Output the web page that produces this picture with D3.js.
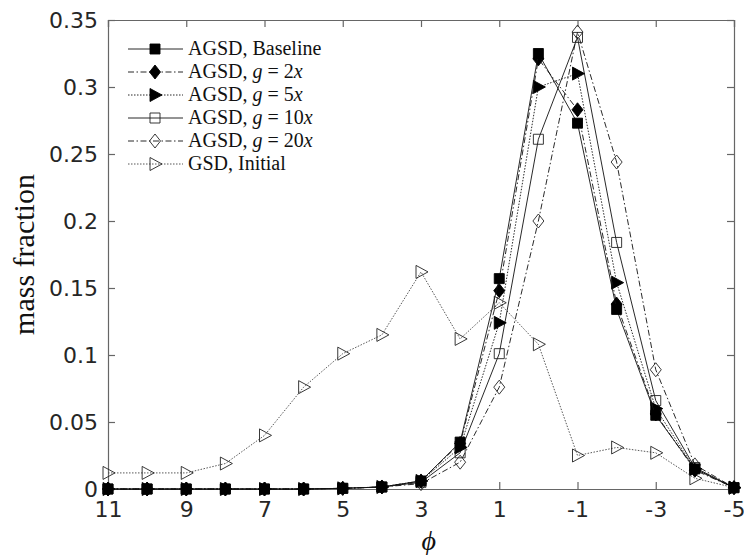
<!DOCTYPE html>
<html>
<head>
<meta charset="utf-8">
<script src="https://cdn.jsdelivr.net/npm/d3@7"></script>
<style>
body { margin: 0; background: #fff; }
</style>
</head>
<body>
<script>
// phi classes
var phi = [11, 10, 9, 8, 7, 6, 5, 4, 3, 2, 1, 0, -1, -2, -3, -4, -5]

var baseline = [0, 0, 0, 0, 0, 0, 0.0005, 0.0015, 0.006, 0.035, 0.157, 0.325, 0.273, 0.134, 0.055, 0.015, 0.001]
var g2x = [0, 0, 0, 0, 0, 0, 0.0005, 0.0015, 0.006, 0.034, 0.148, 0.321, 0.283, 0.138, 0.056, 0.014, 0.001]
var g5x = [0, 0, 0, 0, 0, 0, 0.0005, 0.0015, 0.006, 0.031, 0.124, 0.300, 0.310, 0.154, 0.060, 0.015, 0.001]
var g10x = [0, 0, 0, 0, 0, 0, 0.0005, 0.0015, 0.005, 0.027, 0.101, 0.261, 0.337, 0.184, 0.066, 0.016, 0.001]
var g20x = [0, 0, 0, 0, 0, 0, 0.0005, 0.0015, 0.004, 0.020, 0.076, 0.200, 0.341, 0.244, 0.089, 0.018, 0.001]
var gsdInitial = [0.012, 0.012, 0.012, 0.019, 0.040, 0.076, 0.101, 0.115, 0.162, 0.112, 0.139, 0.108, 0.025, 0.031, 0.027, 0.008, 0.001]

var xTicks = [11, 9, 7, 5, 3, 1, -1, -3, -5]
var yTicks = [0, 0.05, 0.1, 0.15, 0.2, 0.25, 0.3, 0.35]

var series = [
    {name: "GSD", label: ["GSD, Initial"], values: gsdInitial, dash: "1.5,1.5", marker: "tri", fill: "none", stroke: "#444"},
    {name: "g20", label: ["AGSD, ", "g", " = 20", "x"], values: g20x, dash: "6,2.5,1.5,2.5", marker: "diamond", fill: "none", stroke: "#111"},
    {name: "g10", label: ["AGSD, ", "g", " = 10", "x"], values: g10x, dash: null, marker: "square", fill: "none", stroke: "#111"},
    {name: "g5", label: ["AGSD, ", "g", " = 5", "x"], values: g5x, dash: "1.5,1.5", marker: "tri", fill: "#000", stroke: "#111"},
    {name: "g2", label: ["AGSD, ", "g", " = 2", "x"], values: g2x, dash: "6,2.5,1.5,2.5", marker: "diamond", fill: "#000", stroke: "#111"},
    {name: "base", label: ["AGSD, Baseline"], values: baseline, dash: null, marker: "square", fill: "#000", stroke: "#111"}
]
// legend order as in the picture
var legendOrder = ["base", "g2", "g5", "g10", "g20", "GSD"]

var margin = {left: 108, right: 10, top: 20, bottom: 66}
var W = 744, H = 555

var svg = d3.select("body").append("svg")
    .attr("width", W)
    .attr("height", H)

var xscale = d3.scaleLinear().domain([11, -5]).range([margin.left, W - margin.right])
var yscale = d3.scaleLinear().domain([0, 0.35]).range([H - margin.bottom, margin.top])

var markerPath = function (type)
{
    var p = d3.path()
    if (type == "square") {
        p.rect(-5, -5, 10, 10)
    } else if (type == "diamond") {
        p.moveTo(0, -7); p.lineTo(5.5, 0); p.lineTo(0, 7); p.lineTo(-5.5, 0); p.closePath()
    } else {
        p.moveTo(-5, -6.5); p.lineTo(7, 0); p.lineTo(-5, 6.5); p.closePath()
    }
    return p.toString()
}

// axes box with inward ticks
var axisCol = "#666"
var fmtY = function (d) { return d == 0 ? "0" : String(+d.toFixed(2)) }
var fmtX = function (d) { return String(d) }

var gx = svg.append("g").attr("transform", "translate(0," + yscale(0) + ")")
    .call(d3.axisBottom(xscale).tickValues(xTicks).tickSize(-7).tickPadding(12).tickFormat(fmtX))
var gxt = svg.append("g").attr("transform", "translate(0," + yscale(0.35) + ")")
    .call(d3.axisTop(xscale).tickValues(xTicks).tickSize(-7).tickFormat(""))
var gy = svg.append("g").attr("transform", "translate(" + xscale(11) + ",0)")
    .call(d3.axisLeft(yscale).tickValues(yTicks).tickSize(-7).tickPadding(10).tickFormat(fmtY))
var gyr = svg.append("g").attr("transform", "translate(" + xscale(-5) + ",0)")
    .call(d3.axisRight(yscale).tickValues(yTicks).tickSize(-7).tickFormat(""))

;[gx, gxt, gy, gyr].forEach(function (g)
{
    g.select(".domain").attr("stroke", axisCol).attr("stroke-width", 1.2)
    g.selectAll(".tick line").attr("stroke", axisCol).attr("stroke-width", 1.2)
    g.selectAll(".tick text")
        .attr("fill", "#262626")
        .style("font-family", "'DejaVu Sans', sans-serif")
        .style("font-size", "22px")
})

// lines and markers
var line = d3.line()
    .x(function (d) { return xscale(d.x) })
    .y(function (d) { return yscale(d.y) })

series.forEach(function (s)
{
    var pts = s.values.map(function (v, i) { return {x: phi[i], y: v} })
    var g = svg.append("g").attr("class", "series-" + s.name)
    g.append("path")
        .datum(pts)
        .attr("d", line)
        .attr("fill", "none")
        .attr("stroke", s.stroke)
        .attr("stroke-width", 0.9)
        .attr("stroke-dasharray", s.dash)
    g.selectAll("path.mk")
        .data(pts)
        .enter()
        .append("path")
        .attr("class", "mk")
        .attr("d", markerPath(s.marker))
        .attr("transform", function (p) { return "translate(" + xscale(p.x) + "," + yscale(p.y) + ")" })
        .attr("fill", s.fill)
        .attr("stroke", s.fill == "none" ? "#222" : "#000")
        .attr("stroke-width", 0.9)
})

// legend
var lg = svg.append("g").attr("transform", "translate(128,49)")
legendOrder.forEach(function (name, i)
{
    var s = series.find(function (d) { return d.name == name })
    var row = lg.append("g").attr("transform", "translate(0," + (i * 23) + ")")
    row.append("line")
        .attr("x1", 0).attr("x2", 55).attr("y1", 0).attr("y2", 0)
        .attr("stroke", s.stroke)
        .attr("stroke-width", 0.9)
        .attr("stroke-dasharray", s.dash)
    row.append("path")
        .attr("d", markerPath(s.marker))
        .attr("transform", "translate(27,0)")
        .attr("fill", s.fill)
        .attr("stroke", s.fill == "none" ? "#222" : "#000")
        .attr("stroke-width", 0.9)
    var t = row.append("text")
        .attr("x", 60).attr("y", 6)
        .attr("fill", "#111")
        .style("font-family", "'Liberation Serif', serif")
        .style("font-size", "20px")
        .style("white-space", "pre")
    s.label.forEach(function (part, k)
    {
        var ts = t.append("tspan").text(part)
        if (s.label.length > 1 && (k == 1 || k == 3)) ts.style("font-style", "italic")
    })
})

// axis titles
svg.append("text")
    .attr("transform", "translate(34," + yscale(0.175) + ") rotate(-90)")
    .attr("text-anchor", "middle")
    .attr("fill", "#111")
    .style("font-family", "'Liberation Serif', serif")
    .style("font-size", "30px")
    .text("mass fraction")

svg.append("text")
    .attr("x", xscale(2.8))
    .attr("y", 550)
    .attr("text-anchor", "middle")
    .attr("fill", "#111")
    .style("font-family", "'Liberation Serif', serif")
    .style("font-style", "italic")
    .style("font-size", "28px")
    .text("\u03d5")
</script>
</body>
</html>
